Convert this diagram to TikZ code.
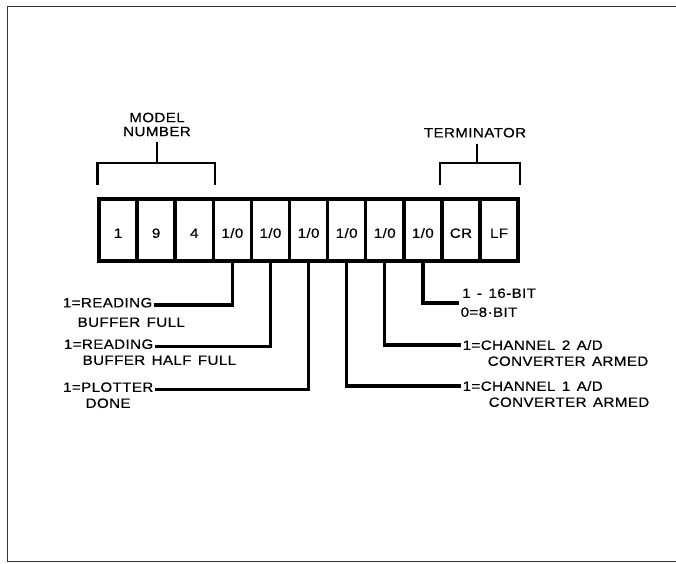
\documentclass[tikz,border=0pt]{standalone}
\usepackage{fontspec}
\setmainfont{Liberation Sans}[FakeStretch=1.12,LetterSpace=3,WordSpace=1.4,FakeBold=0.5]
\begin{document}
\begin{tikzpicture}[x=1pt,y=-1pt,
  every node/.style={font=\fontsize{13.5}{14}\selectfont},
  cell/.style={draw, line width=3.5pt, minimum width=38.1pt, minimum height=62pt,
    inner sep=0pt, text height=15.7pt, text depth=0pt},
  wire/.style={line width=3.3pt},
  brk/.style={line width=2.6pt},
  lab/.style={inner xsep=1.5pt, inner ysep=0pt, text height=9.7pt, text depth=0pt},
  labl/.style={inner xsep=1.5pt, inner ysep=0pt, text height=9.7pt, text depth=5pt},
  frame/.style={line width=1pt, black!80}]
\useasboundingbox (0,0) rectangle (676,563);
% frame
\draw[frame] (676,6.5) -| (7.5,561) -- (676,561);
% cells
\node[cell] (c1)  at (118.05,230) {1};
\node[cell] (c2)  at (156.15,230) {9};
\node[cell] (c3)  at (194.25,230) {4};
\node[cell] (c4)  at (232.35,230) {1/0};
\node[cell] (c5)  at (270.45,230) {1/0};
\node[cell] (c6)  at (308.55,230) {1/0};
\node[cell] (c7)  at (346.65,230) {1/0};
\node[cell] (c8)  at (384.75,230) {1/0};
\node[cell] (c9)  at (422.85,230) {1/0};
\node[cell] (c10) at (460.95,230) {CR};
\node[cell] (c11) at (499.05,230) {LF};
% brackets
\node[align=center, inner xsep=0pt, inner ysep=6pt] (mtext) at (157,124.5) {MODEL\\NUMBER};
\node[lab, inner ysep=6pt] (ttext) at (475,132.5) {TERMINATOR};
\coordinate (mbar) at (157,163);
\coordinate (mleg) at (0,185);
\coordinate (tbar) at (477,163);
\draw[brk] (mtext.south) -- (mbar);
\draw[brk] (c1.west |- mleg) -- (c1.west |- mbar) -- (c3.east |- mbar) -- (c3.east |- mleg);
\draw[brk] (tbar |- ttext.south) -- (tbar);
\draw[brk] (c10.west |- mleg) -- (c10.west |- tbar) -- (c11.east |- tbar) -- (c11.east |- mleg);
% left labels
\node[labl, anchor=east] (l1a) at (154,305) {1=READING};
\node[lab, anchor=west] (l1b) at (76,322) {BUFFER FULL};
\node[labl, anchor=east] (l2a) at (155,346.5) {1=READING};
\node[lab, anchor=west] (l2b) at (81,360) {BUFFER HALF FULL};
\node[labl, anchor=east] (l3a) at (155,389.5) {1=PLOTTER};
\node[lab, anchor=west] (l3b) at (84,403) {DONE};
% right labels
\node[lab, anchor=west] (r1a) at (460.5,293) {1 - 16-BIT};
\node[lab, anchor=west] (r1b) at (459,312) {0=8·BIT};
\node[lab, anchor=west] (r2a) at (461,345) {1=CHANNEL 2 A/D};
\node[lab, anchor=west] (r2b) at (486,361) {CONVERTER ARMED};
\node[lab, anchor=west] (r3a) at (461,386) {1=CHANNEL 1 A/D};
\node[lab, anchor=west] (r3b) at (487,402) {CONVERTER ARMED};
% connectors
\draw[wire] (c4.south) |- (l1a.east);
\draw[wire] (c5.south) |- (l2a.east);
\draw[wire] (c6.south) |- (l3a.east);
\draw[wire] (c7.south) |- (r3a.west);
\draw[wire] (c8.south) |- (r2a.west);
\draw[wire] (c9.south) |- ([yshift=9pt]r1b.west);
\end{tikzpicture}
\end{document}
